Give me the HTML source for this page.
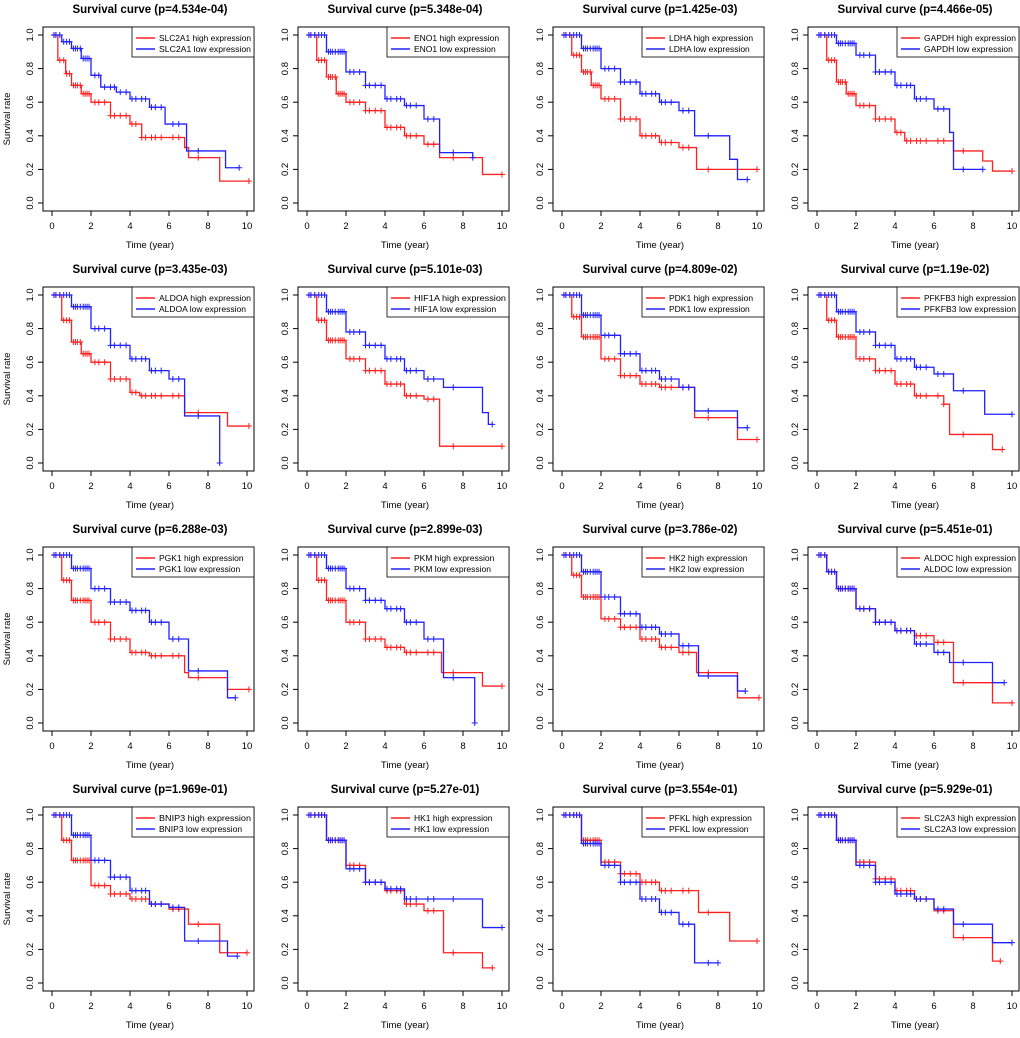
<!DOCTYPE html>
<html><head><meta charset="utf-8"><style>
body{margin:0;background:#fff;}
svg{display:block;font-family:"Liberation Sans",sans-serif;}
</style></head><body>
<svg id="c" width="1020" height="1038"></svg>
<script>
const genes=["SLC2A1","ENO1","LDHA","GAPDH","ALDOA","HIF1A","PDK1","PFKFB3","PGK1","PKM","HK2","ALDOC","BNIP3","HK1","PFKL","SLC2A3"];
const pvals=["4.534e-04","5.348e-04","1.425e-03","4.466e-05","3.435e-03","5.101e-03","4.809e-02","1.19e-02","6.288e-03","2.899e-03","3.786e-02","5.451e-01","1.969e-01","5.27e-01","3.554e-01","5.929e-01"];
const highTimes=[
[0,0.3,0.7,1,1.5,2,3,4,4.6,6.8,7,8.6,10.1],
[0,0.5,1,1.5,2,3,4,5,6,6.8,9,10],
[0,0.5,1,1.5,2,3,4,5,6,6.9,10],
[0,0.5,1,1.5,2,3,4,4.5,7,8.5,9,10],
[0,0.5,1,1.5,2,3,4,4.5,6.8,9,10.1],
[0,0.5,1,2,3,4,5,6,6.8,10],
[0,0.5,1,2,3,4,5,6.8,9,10],
[0,0.5,1,2,3,4,5,6.5,6.8,9,9.5],
[0,0.5,1,2,3,4,5,6.8,7,9,10.1],
[0,0.5,1,2,3,4,5,6.9,9,10],
[0,0.5,1,2,3,4,5,6,6.9,9,10.1],
[0,0.5,1,2,3,4,5,6,7,9,10],
[0,0.5,1,2,3,4,5,6,7,8.6,10],
[0,1,2,3,4,5,6,7,9,9.5],
[0,1,2,3,4,5,7,8.6,10],
[0,1,2,3,4,5,6,7,9,9.4]];
const highSurv=[
[1,0.85,0.77,0.7,0.65,0.6,0.52,0.47,0.39,0.33,0.27,0.13,0.13],
[1,0.85,0.75,0.65,0.6,0.55,0.45,0.4,0.35,0.27,0.17,0.17],
[1,0.88,0.78,0.7,0.62,0.5,0.4,0.36,0.33,0.2,0.2],
[1,0.85,0.72,0.65,0.58,0.5,0.42,0.37,0.31,0.25,0.19,0.19],
[1,0.85,0.72,0.65,0.6,0.5,0.42,0.4,0.3,0.22,0.22],
[1,0.85,0.73,0.62,0.55,0.47,0.4,0.38,0.1,0.1],
[1,0.87,0.75,0.62,0.52,0.47,0.45,0.27,0.14,0.14],
[1,0.85,0.75,0.62,0.55,0.47,0.4,0.35,0.17,0.08,0.08],
[1,0.85,0.73,0.6,0.5,0.42,0.4,0.3,0.27,0.2,0.2],
[1,0.85,0.73,0.6,0.5,0.45,0.42,0.3,0.22,0.22],
[1,0.88,0.75,0.62,0.57,0.5,0.45,0.42,0.3,0.15,0.15],
[1,0.9,0.8,0.68,0.6,0.55,0.52,0.48,0.24,0.12,0.12],
[1,0.85,0.73,0.58,0.53,0.5,0.47,0.44,0.35,0.18,0.18],
[1,0.85,0.7,0.6,0.55,0.47,0.43,0.18,0.09,0.09],
[1,0.85,0.72,0.65,0.6,0.55,0.42,0.25,0.25],
[1,0.85,0.72,0.62,0.55,0.5,0.43,0.27,0.13,0.13]];
const lowTimes=[
[0,0.5,1,1.5,2,2.5,3.3,4,5,5.8,6.9,8.9,9.6],
[0,1,2,3,4,5,6,6.8,8.5],
[0,1,2,3,4,5,6,6.8,8.6,9,9.5],
[0,1,2,3,4,5,6,6.8,7,8.5],
[0,1,2,3,4,5,6,6.8,8.6,8.6],
[0,1,2,3,4,5,6,7,9,9.3,9.5],
[0,1,2,3,4,5,6,6.8,9,9.5],
[0,1,2,3,4,5,6,7,8.6,10],
[0,1,2,3,4,5,6,7,9,9.4],
[0,1,2,3,4,5,6,7,8.6,8.6],
[0,1,2,3,4,5,6,7,9,9.4],
[0,0.5,1,2,3,4,5,6,6.8,9,9.6],
[0,1,2,3,4,5,6,6.8,9,9.5],
[0,1,2,3,4,5,9,10],
[0,1,2,3,4,5,6,6.8,8],
[0,1,2,3,4,5,6,7,9,10]];
const lowSurv=[
[1,0.96,0.92,0.86,0.76,0.69,0.66,0.62,0.57,0.47,0.31,0.21,0.21],
[1,0.9,0.78,0.7,0.62,0.58,0.5,0.3,0.27],
[1,0.92,0.8,0.72,0.65,0.6,0.55,0.4,0.26,0.14,0.14],
[1,0.95,0.88,0.78,0.7,0.62,0.56,0.42,0.2,0.2],
[1,0.93,0.8,0.7,0.62,0.55,0.5,0.28,0,0],
[1,0.9,0.78,0.7,0.62,0.55,0.5,0.45,0.3,0.23,0.23],
[1,0.88,0.76,0.65,0.55,0.5,0.45,0.31,0.21,0.21],
[1,0.9,0.78,0.7,0.62,0.57,0.53,0.43,0.29,0.29],
[1,0.92,0.8,0.72,0.67,0.6,0.5,0.31,0.15,0.15],
[1,0.92,0.8,0.73,0.68,0.6,0.5,0.27,0,0],
[1,0.9,0.75,0.65,0.57,0.53,0.46,0.28,0.19,0.19],
[1,0.9,0.8,0.68,0.6,0.55,0.47,0.42,0.36,0.24,0.24],
[1,0.88,0.73,0.63,0.55,0.47,0.45,0.25,0.16,0.16],
[1,0.85,0.68,0.6,0.56,0.5,0.33,0.33],
[1,0.83,0.7,0.6,0.5,0.42,0.35,0.12,0.12],
[1,0.85,0.7,0.6,0.53,0.5,0.44,0.35,0.24,0.24]];
const censorTimes=[0.1,0.2,0.4,0.6,0.75,0.9,1.1,1.2,1.3,1.45,1.6,1.7,1.8,1.9,2.2,2.4,2.7,3.0,3.2,3.5,3.8,4.1,4.3,4.6,4.8,5.1,5.3,5.6,6.2,6.5,7.5];
const xTicks=[0,2,4,6,8,10];
const yTicks=[0,0.2,0.4,0.6,0.8,1.0];

const NS="http://www.w3.org/2000/svg";
const svg=document.getElementById('c');
function mk(tag,attrs,parent){const e=document.createElementNS(NS,tag);for(const k in attrs)e.setAttribute(k,attrs[k]);(parent||svg).appendChild(e);return e;}
function survAt(ts,ss,t){let s=ss[0];for(let i=0;i<ts.length;i++){if(ts[i]<=t)s=ss[i];}return s;}
function drawCurve(g,ts,ss,xs,ys,color,name){
  let d=`M${xs(ts[0])},${ys(ss[0])}`;
  for(let i=1;i<ts.length;i++){d+=` H${xs(ts[i])} V${ys(ss[i])}`;}
  const p=mk('path',{d:d,fill:'none',stroke:color,'stroke-width':1.3},g);
  
  
  const end=ts[ts.length-1];
  const cts=censorTimes.filter(t=>t<end).concat([end]);
  cts.forEach(t=>{
    const x=xs(t),y=ys(survAt(ts,ss,t));
    const m=mk('path',{d:`M${x-3},${y}H${x+3}M${x},${y-3}V${y+3}`,stroke:color,'stroke-width':1},g);
    
    
  });
}
genes.forEach((gene,i)=>{
  const col=i%4,row=Math.floor(i/4);
  const ox=col*255,oy=row*260;
  const g=mk('g',{});
  
  
  const xs=t=>ox+52+t*19.5, ys=s=>oy+203-s*168;
  const title=mk('text',{x:ox+150,y:oy+13,'text-anchor':'middle','font-size':11.5,'font-weight':'bold'},g);
  title.textContent=`Survival curve (p=${pvals[i]})`;
  
  
  const box=mk('rect',{x:ox+43,y:oy+27,width:211,height:184,fill:'none',stroke:'#000','stroke-width':1},g);
  
  
  xTicks.forEach(t=>{
    mk('line',{x1:xs(t),x2:xs(t),y1:oy+211,y2:oy+216,stroke:'#000'},g);
    const l=mk('text',{x:xs(t),y:oy+229,'text-anchor':'middle','font-size':9.5},g);l.textContent=t;
    
    
  });
  yTicks.forEach(v=>{
    mk('line',{x1:ox+43,x2:ox+38,y1:ys(v),y2:ys(v),stroke:'#000'},g);
    const l=mk('text',{x:ox+33,y:ys(v),'text-anchor':'middle','font-size':9.5,transform:`rotate(-90 ${ox+33} ${ys(v)})`},g);l.textContent=v.toFixed(1);
    
    
  });
  const xt=mk('text',{x:ox+150,y:oy+248,'text-anchor':'middle','font-size':9.5},g);xt.textContent='Time (year)';
  
  
  if(col===0){
    const yt=mk('text',{x:ox+10,y:oy+119,'text-anchor':'middle','font-size':9.5,transform:`rotate(-90 ${ox+10} ${oy+119})`},g);yt.textContent='Survival rate';
    
    
  }
  drawCurve(g,highTimes[i],highSurv[i],xs,ys,'#ff2020',gene.toLowerCase()+'-high');
  drawCurve(g,lowTimes[i],lowSurv[i],xs,ys,'#2020ff',gene.toLowerCase()+'-low');
  const lg=mk('g',{},g);
  
  
  mk('rect',{x:ox+132,y:oy+27,width:122,height:30,fill:'#fff',stroke:'#000','stroke-width':0.8},lg);
  [['high','#ff2020',oy+38],['low','#2020ff',oy+49]].forEach(([lab,c,y])=>{
    mk('line',{x1:ox+136,x2:ox+155,y1:y,y2:y,stroke:c,'stroke-width':1.5},lg);
    const txt=`${gene} ${lab} expression`;
    const t=mk('text',{x:ox+159,y:y+3,'font-size':8.5},lg);t.textContent=txt;
    if(txt.length>20){t.setAttribute('textLength',92);t.setAttribute('lengthAdjust','spacingAndGlyphs');}
    
    
  });
});
</script>
</body></html>
